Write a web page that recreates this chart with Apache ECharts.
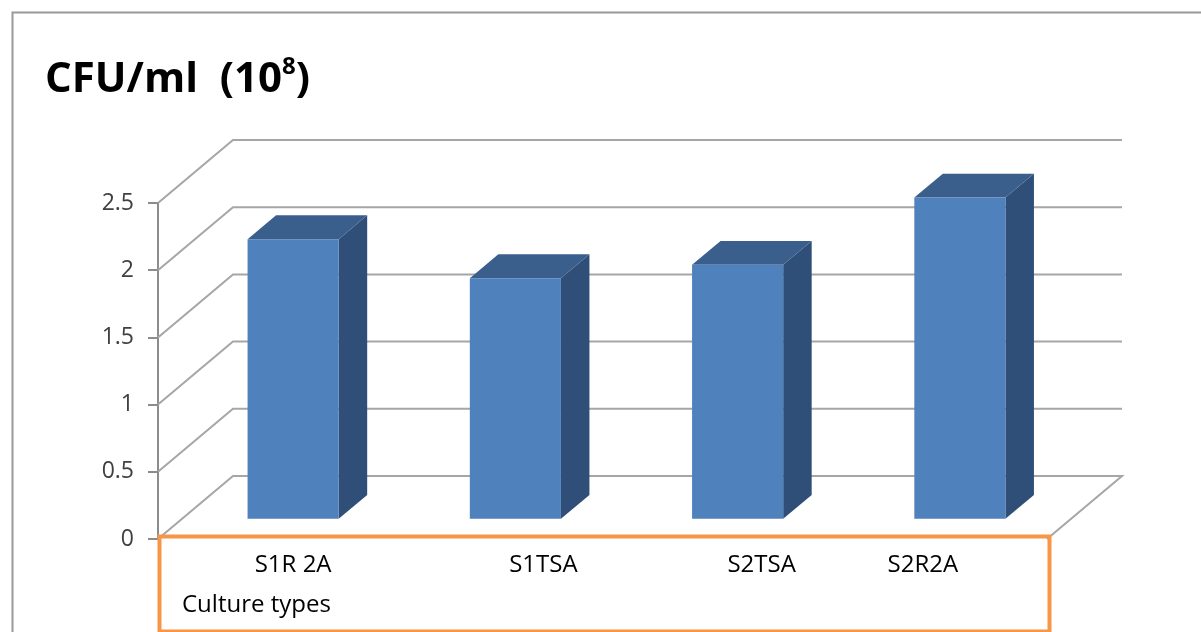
<!DOCTYPE html>
<html>
<head>
<meta charset="utf-8">
<script src="https://cdn.jsdelivr.net/npm/echarts@6/dist/echarts.min.js"></script>
<style>
  html, body { margin: 0; background: #fff; }
  #main { width: 1201px; height: 632px; }
</style>
</head>
<body>
<div id="main"></div>
<script>
// data
var CATEGORIES = ['S1R 2A', 'S1TSA', 'S2TSA', 'S2R2A'];
var CFU_VALUES = [2.08, 1.79, 1.89, 2.39];
var Y_TICKS = [0, 0.5, 1, 1.5, 2, 2.5];

// 3d look (pixels)
var DX = 75, DY = -63;           // back wall offset
var BAR_FRONT = 0.32, BAR_BACK = 0.70;
var BAR_FRAC = 0.41;
var FRONT = '#4f81bd', TOP = '#3b5f8c', SIDE = '#2f4f78';
var GRID_COLOR = '#a6a6a6';
// label nudges to sit like the text box labels
var LABEL_SHIFT = [24, 52, 48, -13];

var chart = echarts.init(document.getElementById('main'));

// back wall gridlines + diagonals
function renderWall(params, api) {
  var cs = params.coordSys;
  var v = api.value(1);
  var y = api.coord([0, v])[1];
  var x0 = cs.x, x1 = cs.x + cs.width;
  var pts = [[x0, y], [x0 + DX, y + DY], [x1 + DX, y + DY]];
  if (v === 0) pts.push([x1, y]);
  return {
    type: 'polyline',
    shape: { points: pts },
    style: { stroke: GRID_COLOR, lineWidth: 2, fill: null }
  };
}

// box bars
function renderBar(params, api) {
  var idx = api.value(0), v = api.value(1);
  var p0 = api.coord([idx, 0]), p1 = api.coord([idx, v]);
  var half = api.size([1, 0])[0] * BAR_FRAC / 2;
  var fx = DX * BAR_FRONT, fy = DY * BAR_FRONT;
  var ddx = DX * (BAR_BACK - BAR_FRONT), ddy = DY * (BAR_BACK - BAR_FRONT);
  var l = p0[0] - half + fx, r = p0[0] + half + fx;
  var t = p1[1] + fy, b = p0[1] + fy;
  return {
    type: 'group',
    children: [
      { type: 'polygon', shape: { points: [[r, t], [r + ddx, t + ddy], [r + ddx, b + ddy], [r, b]] }, style: { fill: SIDE } },
      { type: 'polygon', shape: { points: [[l, t], [r, t], [r + ddx, t + ddy], [l + ddx, t + ddy]] }, style: { fill: TOP } },
      { type: 'rect', shape: { x: l, y: t, width: r - l, height: b - t }, style: { fill: FRONT } }
    ]
  };
}

var labelRich = {};
LABEL_SHIFT.forEach(function (s, i) {
  labelRich['l' + i] = {
    fontSize: 24, color: '#000', fontFamily: 'Open Sans',
    padding: s >= 0 ? [0, 0, 0, 2 * s] : [0, -2 * s, 0, 0]
  };
});

var option = {
  backgroundColor: '#fff',
  animation: false,
  title: {
    text: 'CFU/ml  (10{sup|8})',
    left: 40,
    top: 50,
    textStyle: {
      fontFamily: 'Open Sans', fontWeight: 'bold', fontSize: 42, color: '#000',
      lineHeight: 50,
      rich: {
        sup: { fontFamily: 'Open Sans', fontWeight: 'bold', fontSize: 24, color: '#000', verticalAlign: 'top', lineHeight: 34 }
      }
    }
  },
  grid: { left: 158, right: 154, top: 203, bottom: 93 },
  xAxis: {
    type: 'category',
    data: CATEGORIES,
    axisLine: { show: false },
    axisTick: { show: false },
    axisLabel: {
      margin: 14,
      formatter: function (val, i) { return '{l' + i + '|' + val + '}'; },
      rich: labelRich
    },
    name: 'Culture types',
    nameLocation: 'start',
    nameGap: -24,
    nameTextStyle: {
      fontFamily: 'Open Sans', fontSize: 24, color: '#000',
      align: 'left', verticalAlign: 'top', padding: [54, 0, 0, 0]
    }
  },
  yAxis: {
    type: 'value',
    min: 0, max: 2.5, interval: 0.5,
    axisLine: { show: true, lineStyle: { color: '#8c8c8c', width: 2 } },
    axisTick: { show: true, length: 10, lineStyle: { color: '#8c8c8c', width: 2 } },
    axisLabel: { fontFamily: 'Open Sans', fontSize: 23, color: '#404040', margin: 24 },
    splitLine: { show: false }
  },
  series: [
    {
      type: 'custom',
      renderItem: renderWall,
      clip: false,
      silent: true,
      z: 1,
      data: Y_TICKS.map(function (v) { return [0, v]; })
    },
    {
      type: 'custom',
      renderItem: renderBar,
      clip: false,
      z: 3,
      data: CFU_VALUES.map(function (v, i) { return [i, v]; })
    }
  ],
  graphic: [
    { type: 'rect', left: 10, top: 10, shape: { width: 1250, height: 700 },
      style: { fill: null, stroke: '#999', lineWidth: 2 }, z: 0, silent: true },
    { type: 'rect', left: 157, top: 534, shape: { width: 890, height: 95 },
      style: { fill: null, stroke: '#f79646', lineWidth: 4 }, z: 10, silent: true }
  ]
};

chart.setOption(option);
</script>
</body>
</html>
